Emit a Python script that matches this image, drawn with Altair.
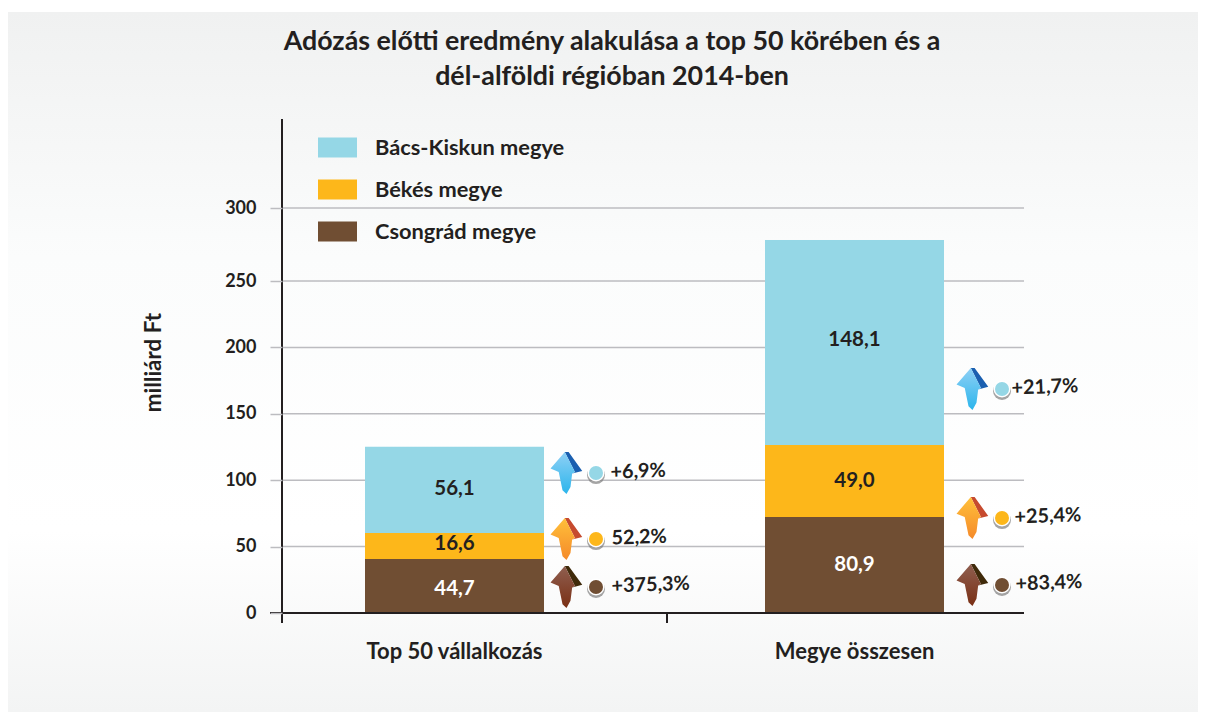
import altair as alt
import pandas as pd

FONT = "Lato"
INK = "#231f20"

title_lines = ["Adózás előtti eredmény alakulása a top 50 körében és a", "dél-alföldi régióban 2014-ben"]
categories = ["Top 50 vállalkozás", "Megye összesen"]
counties = ["Bács-Kiskun megye", "Békés megye", "Csongrád megye"]
county_colors = ["#95d7e6", "#fdb71a", "#704e33"]

# drawn segment heights (Csongrád, Békés, Bács-Kiskun)
top50_heights = [40.7, 19.6, 64.8]
total_heights = [72.3, 54.2, 151.5]

# printed labels
top50_labels = ["44,7", "16,6", "56,1"]
total_labels = ["80,9", "49,0", "148,1"]
top50_label_levels = [18.8, 52.7, 94.0]
total_label_levels = [36.9, 100.0, 206.0]

# change annotations, top to bottom
top50_changes = ["+6,9%", "52,2%", "+375,3%"]
total_changes = ["+21,7%", "+25,4%", "+83,4%"]
top50_levels = [105.4, 55.7, 19.6]
total_levels = [168.7, 71.5, 21.1]

y_ticks = [0, 50, 100, 150, 200, 250, 300]

W, H = 742, 494

x_enc = alt.X("cat:N", sort=categories, title=None,
              scale=alt.Scale(domain=categories, range=[-27.5, 772.5], paddingInner=0, paddingOuter=0),
              axis=alt.Axis(domain=False, ticks=False, labelAngle=0, labelFont=FONT, labelFontWeight="bold",
                            labelFontSize=22, labelColor=INK, labelPadding=28, labelLimit=400, zindex=1))
y_scale = alt.Scale(domain=[0, 250, 300, 367], range=[H, H - 332, 89, 0])
y_axis = alt.Axis(values=y_ticks, grid=False, domain=False, tickColor="#bcbcc0", tickSize=12, tickWidth=1.5,
                  labelFont=FONT, labelFontWeight="bold", labelFontSize=18, labelColor=INK, labelPadding=14,
                  titleFont=FONT, titleFontWeight="bold", titleFontSize=22.4, titleColor=INK,
                  titleX=-117, titleY=243, titleAngle=270, zindex=1)
y_enc = alt.Y("y:Q", title="milliárd Ft", scale=y_scale, axis=y_axis)

one = pd.DataFrame({"y": [0], "cat": [categories[0]]})

background = alt.Chart(one).mark_rect(
    fill=alt.Gradient(gradient="linear", x1=0, x2=0, y1=0, y2=1, stops=[
        alt.GradientStop(color="#f0f1f1", offset=0),
        alt.GradientStop(color="#fbfcfc", offset=0.35),
        alt.GradientStop(color="#ffffff", offset=0.74),
        alt.GradientStop(color="#f3f4f4", offset=1),
    ])
).encode(x=alt.value(-274), x2=alt.value(916), y=alt.value(-107), y2=alt.value(593))

grid = alt.Chart(pd.DataFrame({"y": y_ticks[1:]})).mark_rule(color="#bcbcc0", strokeWidth=1.5).encode(
    x=alt.value(0), x2=alt.value(W), y=y_enc)

rows = []
for cat, heights in zip(categories, [top50_heights, total_heights]):
    for i, h in enumerate(heights):
        rows.append({"cat": cat, "megye": counties[2 - i], "y": h, "ord": i})
bars = alt.Chart(pd.DataFrame(rows)).mark_bar(width=179).encode(
    x=x_enc,
    y=alt.Y("y:Q", stack="zero", title="milliárd Ft", scale=y_scale, axis=y_axis),
    order=alt.Order("ord:Q"),
    color=alt.Color("megye:N", title=None,
                    scale=alt.Scale(domain=counties, range=county_colors),
                    legend=alt.Legend(orient="none", legendX=36, legendY=9, zindex=1,
                                      symbolType="M-1,-0.51H1V0.51H-1Z", symbolSize=1521, symbolStrokeWidth=0,
                                      rowPadding=10, labelOffset=18, labelFont=FONT, labelFontWeight="bold",
                                      labelFontSize=21.8, labelColor=INK, labelLimit=400, symbolOpacity=1)),
)

label_rows = []
for cat, labs, levs in zip(categories, [top50_labels, total_labels], [top50_label_levels, total_label_levels]):
    for i, (lab, lev) in enumerate(zip(labs, levs)):
        label_rows.append({"cat": cat, "y": lev, "t": lab, "c": "#ffffff" if i == 0 else INK})
bar_labels = alt.Chart(pd.DataFrame(label_rows)).mark_text(
    font=FONT, fontWeight="bold", fontSize=20.5, dy=1).encode(
    x=x_enc, y=y_enc, text="t:N", color=alt.Color("c:N", scale=None))

BODY = "M-0.08,-1L-0.76,-0.21L-0.37,-0.05L-0.19,0.82L0,1L0.19,0.66L0.27,0.02L0.4,-0.05Z"
SIDE = "M-0.08,-1L0.1,-1L0.75,-0.1L0.27,0.02L0.4,-0.05Z"
arrow_styles = [("#8fd0f5", "#2bb5ec", "#1a5fb0"),
                ("#ffc03a", "#f58a2a", "#c64a2e"),
                ("#8f5f50", "#7a2f14", "#3f2a0a")]

layers = [background, grid, bars, bar_labels]

BAND_HALF = 200
text_dx = [[-1, 0, 0], [0, 3, 4]]
for g, (cat, levs, texts, arrow_off, dot_off, text_off) in enumerate([
    (categories[0], top50_levels, top50_changes, 112, 141.5, 157),
    (categories[1], total_levels, total_changes, 118, 147.5, 157),
]):
    for i, (lev, txt) in enumerate(zip(levs, texts)):
        d = pd.DataFrame({"cat": [cat], "y": [lev], "t": [txt]})
        top, bottom, side = arrow_styles[i]
        base = alt.Chart(d)
        ax = alt.value(BAND_HALF + arrow_off)
        dx_ = alt.value(BAND_HALF + dot_off)
        layers.append(base.mark_point(shape=SIDE, size=1764, filled=True, fill=side, opacity=1, strokeWidth=0).encode(
            x=x_enc, y=y_enc, xOffset=ax))
        layers.append(base.mark_point(shape=BODY, size=1764, filled=True, opacity=1, strokeWidth=0,
                                      fill=alt.Gradient(gradient="linear", x1=0, x2=0, y1=0, y2=1, stops=[
                                          alt.GradientStop(color=top, offset=0),
                                          alt.GradientStop(color=bottom, offset=1)])).encode(
            x=x_enc, y=y_enc, xOffset=ax))
        layers.append(base.mark_point(shape="circle", size=324, filled=True, fill="#7d7d7d", opacity=0.7, strokeWidth=0).encode(
            x=x_enc, y=y_enc, xOffset=dx_, yOffset=alt.value(2)))
        layers.append(base.mark_point(shape="circle", size=289, filled=True, fill="#ffffff", opacity=1, strokeWidth=0).encode(
            x=x_enc, y=y_enc, xOffset=dx_))
        layers.append(base.mark_point(shape="circle", size=196, filled=True, fill=county_colors[i], opacity=1, strokeWidth=0).encode(
            x=x_enc, y=y_enc, xOffset=dx_))
        layers.append(base.mark_text(font=FONT, fontWeight="bold", fontSize=19.8, color=INK, align="left", angle=358,
                                     dx=text_off + text_dx[g][i], dy=5).encode(
            x=x_enc, y=y_enc, text="t:N"))

cross = pd.DataFrame({"y": [0]})
layers.append(alt.Chart(cross).mark_rule(color=INK, strokeWidth=2).encode(
    x=alt.value(-12), x2=alt.value(W), y=y_enc))
layers.append(alt.Chart(cross).mark_rule(color=INK, strokeWidth=2).encode(
    x=alt.value(0), y=alt.value(0), y2=alt.value(H + 10)))
layers.append(alt.Chart(cross).mark_rule(color=INK, strokeWidth=2).encode(
    x=alt.value(385), y=alt.value(H), y2=alt.value(H + 10)))

for line, top_px in zip(title_lines, [-77, -42]):
    layers.append(alt.Chart(one).mark_text(font=FONT, fontWeight="bold", fontSize=26.8, color=INK).encode(
        x=alt.value(330), y=alt.value(top_px), text=alt.value(line)))

chart = alt.layer(*layers).properties(
    width=W, height=H,
    padding={"left": 274, "top": 111, "right": 174, "bottom": 99},
    autosize=alt.AutoSizeParams(type="none"),
).configure_view(stroke=None)

chart.save("out.html", embed_options={"renderer": "svg", "actions": False})
